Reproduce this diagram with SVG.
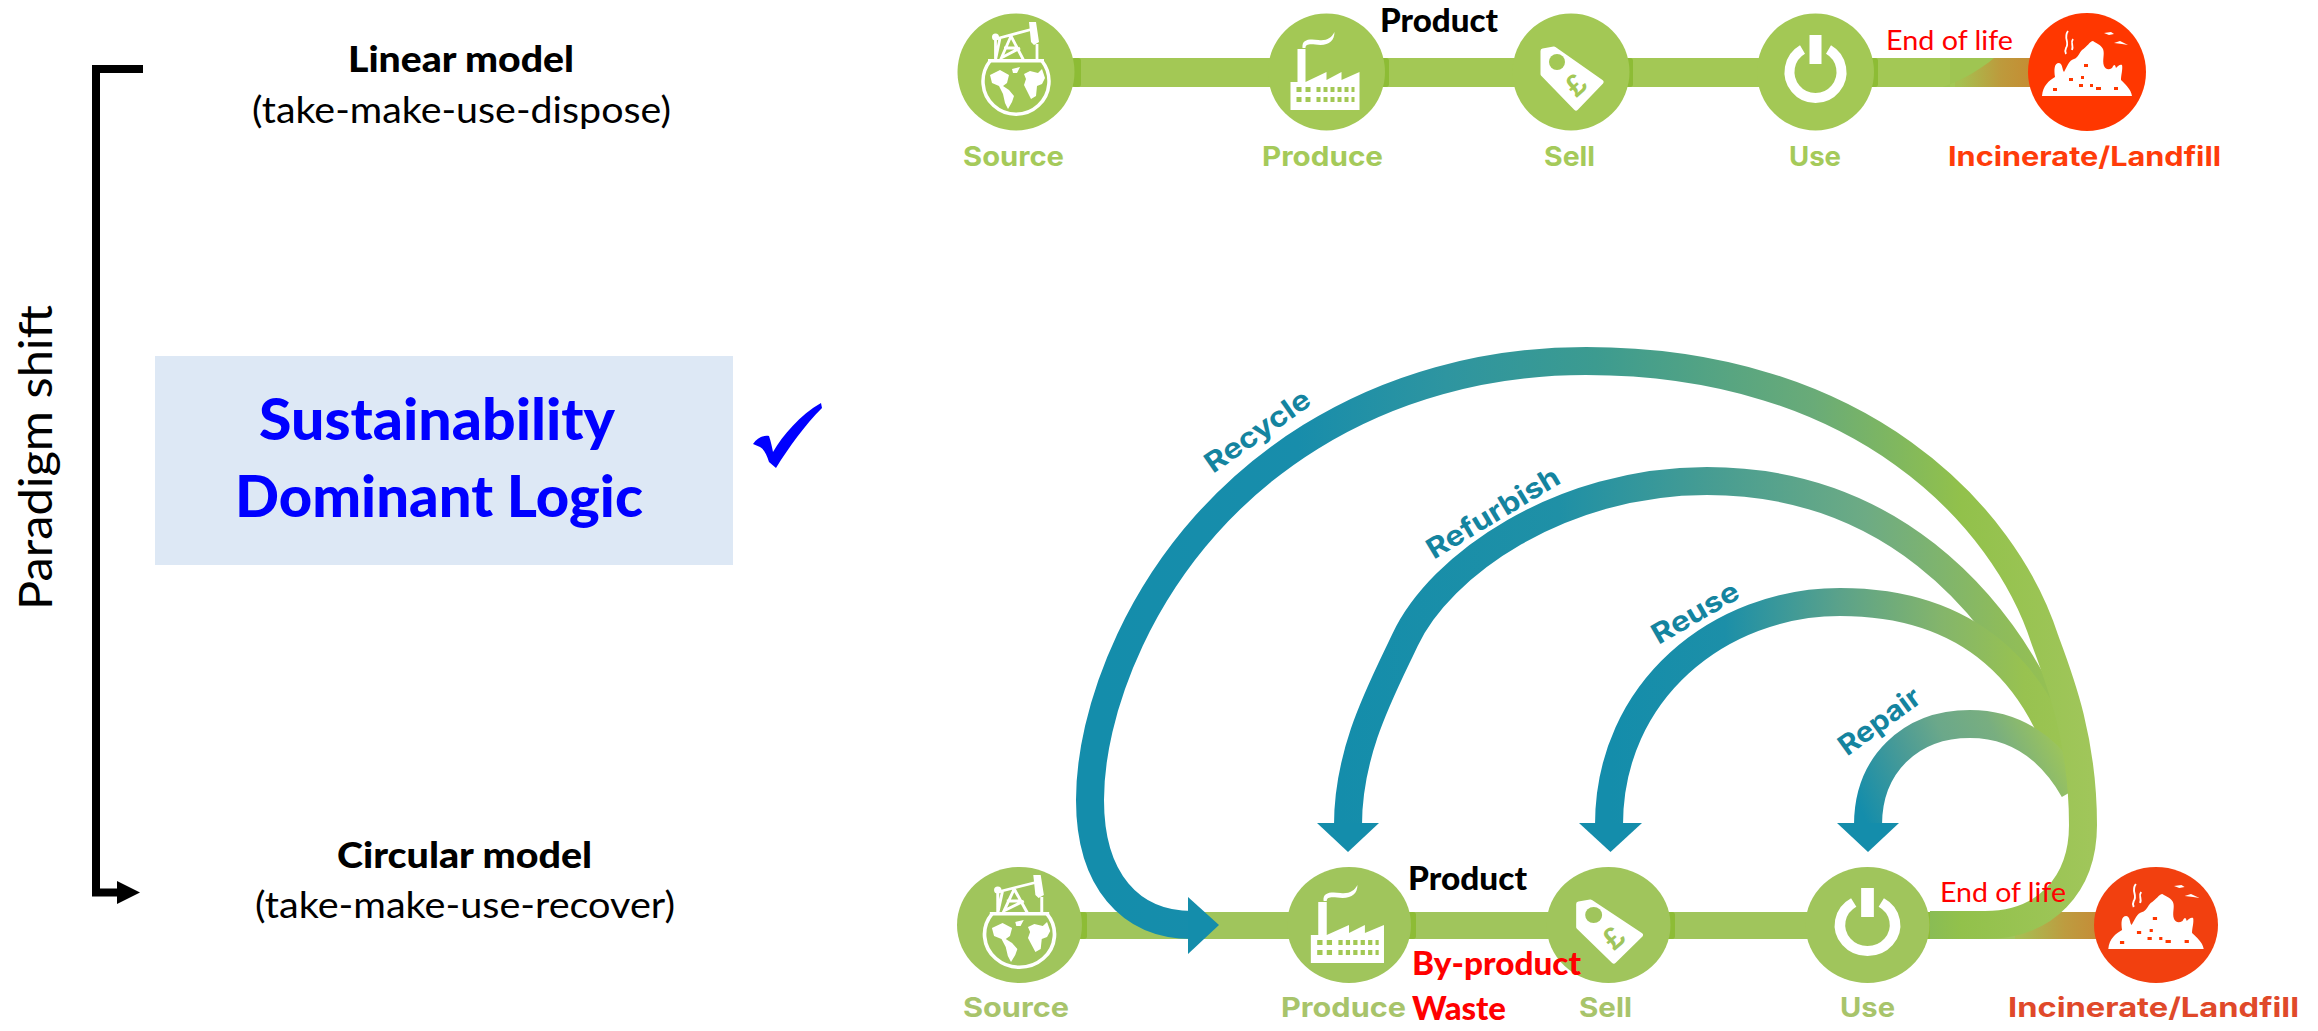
<svg xmlns="http://www.w3.org/2000/svg" width="2318" height="1031" viewBox="0 0 2318 1031">
<style>
text{font-family:"Lato","Liberation Sans",sans-serif}
.b{font-weight:900;fill:#000}
.r{font-weight:400;fill:#000}
.red{fill:#f00}
.step{font-family:"Inter","Liberation Sans",sans-serif;font-weight:700;font-size:27px}
.g{fill:#a3c855}
.g2{fill:#a0c55c}
.o{fill:#ff3700}
.o2{fill:#f2400f}
.tg{fill:#a5ca5a}
.tg2{fill:#a8c46b}
.to{fill:#ff3c0a}
.to2{fill:#e0492a}
.arc{fill:none;stroke-width:28}
.head{fill:#148dab}
.lab{font-family:"Inter","Liberation Sans",sans-serif;font-weight:700;font-size:28px;fill:#14849f;text-anchor:middle}
.stub{fill:#8dbc35}
.w{fill:#fff}
.pound{font-family:"Liberation Sans",sans-serif;font-weight:700;font-size:30px;text-anchor:middle}
</style>
<defs>
<linearGradient id="gRecycle" gradientUnits="userSpaceOnUse" x1="1100" y1="0" x2="2090" y2="0">
<stop offset="0" stop-color="#148dab"/><stop offset=".2" stop-color="#188dab"/><stop offset=".35" stop-color="#2e95a0"/><stop offset=".5" stop-color="#3c9b90"/><stop offset=".72" stop-color="#69ab78"/><stop offset=".87" stop-color="#92c14b"/><stop offset="1" stop-color="#a0c65a"/>
</linearGradient>
<linearGradient id="gRefurb" gradientUnits="userSpaceOnUse" x1="1340" y1="0" x2="2070" y2="0">
<stop offset="0" stop-color="#148dab"/><stop offset=".3" stop-color="#1f90a6"/><stop offset=".5" stop-color="#459c93"/><stop offset=".72" stop-color="#6dab84"/><stop offset=".9" stop-color="#8dbb5c"/><stop offset="1" stop-color="#98c24f"/>
</linearGradient>
<linearGradient id="gReuse" gradientUnits="userSpaceOnUse" x1="1610" y1="0" x2="2070" y2="0">
<stop offset="0" stop-color="#148dab"/><stop offset=".25" stop-color="#1c8fa8"/><stop offset=".5" stop-color="#5ba28a"/><stop offset=".72" stop-color="#84b56b"/><stop offset=".9" stop-color="#98c250"/><stop offset="1" stop-color="#9cc553"/>
</linearGradient>
<linearGradient id="gRepair" gradientUnits="userSpaceOnUse" x1="1868" y1="825" x2="2060" y2="735">
<stop offset="0" stop-color="#148dab"/><stop offset=".3" stop-color="#4a9b96"/><stop offset=".5" stop-color="#6ba88a"/><stop offset=".72" stop-color="#78ae80"/><stop offset="1" stop-color="#9fc659"/>
</linearGradient>
<linearGradient id="gEnd1" gradientUnits="userSpaceOnUse" x1="1960" y1="0" x2="2028" y2="0">
<stop offset="0" stop-color="#a6c050"/><stop offset=".6" stop-color="#bd9a3c"/><stop offset="1" stop-color="#c48e34"/>
</linearGradient>
<linearGradient id="gEnd2" gradientUnits="userSpaceOnUse" x1="2020" y1="0" x2="2094" y2="0">
<stop offset="0" stop-color="#a8bd52"/><stop offset=".6" stop-color="#bd9c40"/><stop offset="1" stop-color="#c48e38"/>
</linearGradient>
<g id="iSource">
<path d="M-26 -11A33 33 0 1 0 26 -11" fill="none" stroke="#fff" stroke-width="3.5"/>
<path class="w" d="M-28 -13H28V-9.500H-28Z"/>
<path d="M-20.500 -33L17 -43M-20.500 -33V-12M-5 -36L-16 -11M-5 -36L8 -11M-12 -24H2M-15 -14L4 -24M21 -28V-11M-20.500 -12L-16 -34" fill="none" stroke="#fff" stroke-width="2.800"/>
<path class="w" d="M13 -50H20L23 -30L18 -27L15 -30ZM-24 -35a3.500 3.500 0 1 0 7 0a3.500 3.500 0 1 0 -7 0Z"/>
<path class="w" d="M-26 3L-16 -2L-7 3L-9 11L-13 14L-7 18L-2 24L-4 30L-8 37L-11 31L-13 22L-17 14L-24 11ZM-4 -3L4 -5L1 1L-3 1ZM8 2L14 -1L22 1L26 -3L29 6L26 12L21 14L20 24L15 27L11 19L8 13L10 7Z"/>
</g>
<g id="iFactory">
<path class="w" d="M-36 38V10H-29V-23H-21V10L0 0V8L15 0V8L33 0V38Z"/>
<path d="M-24 -24C-25 -33 -17 -33 -8 -32C0 -31 5 -34 8 -40C8 -32 3 -27 -6 -27C-15 -28 -21 -29 -21 -24Z" class="w"/>
<path class="g" d="M-30 15h5v5h-5zM-21 15h5v5h-5zM-10 15h4v5h-4zM-3 15h4v5h-4zM4 15h4v5h-4zM11 15h4v5h-4zM18 15h4v5h-4zM25 15h3v5h-3zM-30 25h5v5h-5zM-21 25h5v5h-5zM-10 25h4v5h-4zM-3 25h4v5h-4zM4 25h4v5h-4zM11 25h4v5h-4zM18 25h4v5h-4zM25 25h3v5h-3z"/>
</g>
<path id="iTag" class="w" stroke="#fff" stroke-width="5" stroke-linejoin="round" d="M-28 -21L-17 -23L30 10L5 36L-28 2Z"/>
<g id="iPower">
<path d="M-13 -22.500A26 26 0 1 0 13 -22.500" fill="none" stroke="#fff" stroke-width="10"/>
<rect class="w" x="-6" y="-37" width="12" height="29"/>
</g>
<g id="iFill">
<path class="w" d="M-45 24C-44 13 -38 9 -32 5C-33 -2 -33 -9 -28 -9C-24 -8 -25 -2 -23 0C-20 -5 -18 -12 -13 -13C-9 -14 -8 -19 -5 -22C0 -25 3 -31 6 -31C10 -28 13 -28 16 -23C18 -18 15 -12 17 -6C19 -2 22 -2 25 -4C27 -8 28 -8 29 -4C31 -6 33 -8 35 -7C36 -3 34 3 34 8C38 12 44 17 45 24Z"/>
<path d="M-19 -41C-24 -34 -17 -30 -21 -24C-22 -22 -22 -20 -21 -18M-14 -33C-17 -29 -13 -27 -15 -22" fill="none" stroke="#fff" stroke-width="1.800"/>
<path class="w" d="M17 -39L24 -40L27 -38L22 -37ZM27 -29L33 -31L41 -27L35 -28Z"/>
<path class="o" d="M-18 6h4v3h-4zM-8 12h4v3h-4zM-34 16h4v3h-4zM9 15h5v3h-5zM-3 -8h4v3h-4zM27 15h4v3h-4zM-6 4h3v3h-3zM3 12h3v3h-3z"/>
</g>
</defs>
<rect width="2318" height="1031" fill="#fff"/>

<g id="connectors">
<path id="bracket" d="M143 69H96V892.500H118" fill="none" stroke="#000" stroke-width="8"/>
<polygon points="117,881 140,892.500 117,904" fill="#000"/>
<rect class="g" x="1070" y="58" width="960" height="29"/>
<rect x="1955" y="58" width="75" height="29" fill="url(#gEnd1)"/>
<path d="M1943 87C1962 80 1980 70 1994 58H1950V87Z" fill="#9fc552"/>
<rect class="stub" x="1072" y="58" width="9" height="29" rx="3"/>
<rect class="stub" x="1380" y="58" width="9" height="29" rx="3"/>
<rect class="stub" x="1624" y="58" width="9" height="29" rx="3"/>
<rect class="stub" x="1869" y="58" width="9" height="29" rx="3"/>
<rect class="g2" x="1075" y="912" width="1022" height="27"/>
<rect x="2015" y="912" width="82" height="27" fill="url(#gEnd2)"/>
<rect class="stub" x="1078" y="912" width="9" height="27" rx="3"/>
<rect class="stub" x="1407" y="912" width="9" height="27" rx="3"/>
<rect class="stub" x="1666" y="912" width="9" height="27" rx="3"/>
<rect class="stub" x="1925" y="912" width="9" height="27" rx="3"/>
<path class="arc" stroke="url(#gRefurb)" d="M2062 745C2000 590 1880 481 1707 481C1560 481 1440 565 1405 640C1382 689 1348 750 1348 825"/>
<path class="arc" stroke="url(#gReuse)" d="M2066 772C2040 680 1975 602 1840 602C1720 602 1609 690 1609 825"/>
<path class="arc" stroke="url(#gRepair)" d="M2074 790C2050 748 2015 724 1970 724C1910 724 1868 765 1868 825"/>
<path class="arc" stroke="url(#gRecycle)" d="M1930 925H1985C2045 925 2083 885 2083 825C2083 740 2060 680 2045 640C2005 515 1860 361 1586 361C1380 361 1210 470 1130 640C1100 704 1090 760 1090 800C1090 880 1130 925 1192 925"/>
<polygon class="head" points="1188,897 1219,925 1188,954"/>
<polygon class="head" points="1317,823 1379,823 1348,852"/>
<polygon class="head" points="1579,823 1642,823 1610.500,852"/>
<polygon class="head" points="1837,823 1899,823 1868,852"/>
<text class="lab" transform="translate(1263 439) rotate(-35)" textLength="122" lengthAdjust="spacingAndGlyphs">Recycle</text>
<text class="lab" transform="translate(1498 521) rotate(-31)" textLength="150" lengthAdjust="spacingAndGlyphs">Refurbish</text>
<text class="lab" transform="translate(1700 621) rotate(-30)" textLength="96" lengthAdjust="spacingAndGlyphs">Reuse</text>
<text class="lab" transform="translate(1885 729) rotate(-36)" textLength="94" lengthAdjust="spacingAndGlyphs">Repair</text>
</g>

<g id="paradigm-shift"><text class="r" transform="translate(52 610) rotate(-90)" font-size="47" textLength="305" lengthAdjust="spacingAndGlyphs">Paradigm shift</text></g>
<g id="linear-model">
<text class="b" x="348" y="72" font-size="36" textLength="226" lengthAdjust="spacingAndGlyphs">Linear model</text>
<text class="r" x="252" y="123" font-size="36" textLength="419" lengthAdjust="spacingAndGlyphs">(take-make-use-dispose)</text>
</g>
<g id="circular-model">
<text class="b" x="337" y="868" font-size="36" textLength="255" lengthAdjust="spacingAndGlyphs">Circular model</text>
<text class="r" x="255" y="918" font-size="36" textLength="420" lengthAdjust="spacingAndGlyphs">(take-make-use-recover)</text>
</g>
<g id="sustainability">
<rect x="155" y="356" width="578" height="209" fill="#dde8f5"/>
<text x="259" y="440" font-size="57" font-weight="900" fill="#00f" textLength="356" lengthAdjust="spacingAndGlyphs">Sustainability</text>
<text x="235" y="517" font-size="57" font-weight="900" fill="#00f" textLength="408" lengthAdjust="spacingAndGlyphs">Dominant Logic</text>
<path d="M753 444C757 438 763 435 769 436C771 442 772 447 773 452C783 435 800 415 821 403L822 408C805 425 789 447 776 468L769 462C767 455 764 449 760 447Z" fill="#00f"/>
</g>

<g id="linear-source"><circle class="g" cx="1016" cy="72" r="58.500"/><use href="#iSource" x="1016" y="72"/><text class="step tg" x="963" y="166" textLength="101" lengthAdjust="spacingAndGlyphs">Source</text></g>
<g id="linear-produce"><circle class="g" cx="1326.500" cy="72" r="58.500"/><use href="#iFactory" x="1326.500" y="72"/><text class="step tg" x="1262" y="166" textLength="121" lengthAdjust="spacingAndGlyphs">Produce</text></g>
<g id="linear-sell"><circle class="g" cx="1571" cy="72" r="58.500"/><g transform="translate(1571 72)"><use href="#iTag"/><circle class="g" cx="-14" cy="-10" r="8"/><text class="pound g" transform="translate(5 13) rotate(-42)" y="10">£</text></g><text class="step tg" x="1544" y="166" textLength="51" lengthAdjust="spacingAndGlyphs">Sell</text></g>
<g id="linear-use"><circle class="g" cx="1815.500" cy="72" r="58.500"/><use href="#iPower" x="1815.500" y="72"/><text class="step tg" x="1789" y="166" textLength="52" lengthAdjust="spacingAndGlyphs">Use</text></g>
<g id="linear-landfill"><circle class="o" cx="2087" cy="72" r="59"/><use href="#iFill" x="2087" y="72"/><text class="step to" x="1948" y="166" textLength="273" lengthAdjust="spacingAndGlyphs">Incinerate/Landfill</text></g>
<g id="linear-labels">
<text class="b" x="1380" y="32" font-size="32" textLength="118" lengthAdjust="spacingAndGlyphs">Product</text>
<text class="red" x="1886" y="50" font-size="27" textLength="127" lengthAdjust="spacingAndGlyphs">End of life</text>
</g>

<g id="circular-source"><ellipse class="g2" cx="1019.500" cy="925" rx="62.500" ry="58"/><use href="#iSource" transform="translate(1019.500 925) scale(1.060 1)"/><text class="step tg2" x="963" y="1017" textLength="106" lengthAdjust="spacingAndGlyphs">Source</text></g>
<g id="circular-produce"><ellipse class="g2" cx="1349" cy="925" rx="62" ry="58"/><use href="#iFactory" transform="translate(1349 925) scale(1.060 1)"/><text class="step tg2" x="1281" y="1017" textLength="125" lengthAdjust="spacingAndGlyphs">Produce</text></g>
<g id="circular-sell"><ellipse class="g2" cx="1608.500" cy="925" rx="62" ry="58"/><g transform="translate(1608.500 925) scale(1.060 1)"><use href="#iTag"/><circle class="g2" cx="-14" cy="-10" r="8"/><text class="pound g2" transform="translate(5 13) rotate(-42)" y="10">£</text></g><text class="step tg2" x="1579" y="1017" textLength="53" lengthAdjust="spacingAndGlyphs">Sell</text></g>
<g id="circular-use"><ellipse class="g2" cx="1867.500" cy="925" rx="62" ry="58"/><use href="#iPower" transform="translate(1867.500 925) scale(1.060 1)"/><text class="step tg2" x="1840" y="1017" textLength="55" lengthAdjust="spacingAndGlyphs">Use</text></g>
<g id="circular-landfill"><ellipse class="o2" cx="2156" cy="925" rx="62" ry="58"/><use href="#iFill" transform="translate(2156 925) scale(1.060 1)"/><text class="step to2" x="2008" y="1017" textLength="291" lengthAdjust="spacingAndGlyphs">Incinerate/Landfill</text></g>
<g id="circular-labels">
<text class="b" x="1408" y="890" font-size="32" textLength="119" lengthAdjust="spacingAndGlyphs">Product</text>
<text class="red" x="1940" y="902" font-size="27" textLength="126" lengthAdjust="spacingAndGlyphs">End of life</text>
<text class="red" x="1412" y="975" font-size="32" font-weight="900" textLength="169" lengthAdjust="spacingAndGlyphs">By-product</text>
<text class="red" x="1412" y="1020" font-size="32" font-weight="900" textLength="94" lengthAdjust="spacingAndGlyphs">Waste</text>
</g>
</svg>
